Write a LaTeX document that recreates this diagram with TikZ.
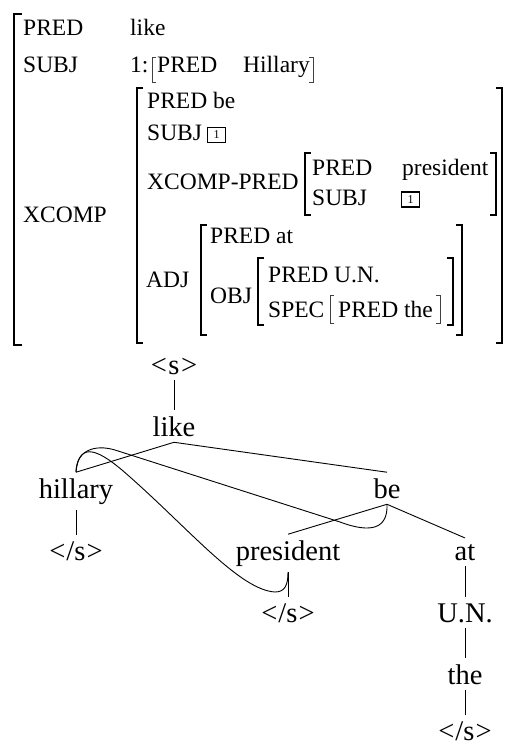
\documentclass[tikz,border=0pt]{standalone}
\usepackage{fontspec}
\setmainfont{Liberation Serif}
\begin{document}
\begin{tikzpicture}[x=1pt,y=-1pt,
  avm/.style={anchor=base west,inner sep=0pt,font=\fontsize{23.5}{27}\selectfont},
  tw/.style={font=\fontsize{28.5}{32}\selectfont,inner xsep=1pt,inner ysep=6pt,outer sep=0pt,anchor=base},
  brk/.style={line width=1.5pt},
  sbrk/.style={line width=0.8pt,black!75},
  edge/.style={line width=0.9pt},
  tagbox/.style={draw,line width=1.5pt,minimum width=18pt,minimum height=15pt,inner sep=0pt,font=\fontsize{12}{12}\selectfont}]
\useasboundingbox (0,0) rectangle (509,747);

% ---------- AVM ----------
% outer matrix
\draw[brk] (22,14) -- (14,14) -- (14,345) -- (22,345);
\node[avm] (p1) at (23,35) {PRED};
\node[avm] (v1) at (130,35) {like};
\node[avm] (s1) at (23,72) {SUBJ};
\node[avm] (one) at (130,72) {1:};
\draw[sbrk] (156,57) -- (152,57) -- (152,82) -- (156,82);
\node[avm] (p2) at (157,72) {PRED};
\node[avm] (v2) at (243,72) {Hillary};
\draw[sbrk] (309,57) -- (313,57) -- (313,82) -- (309,82);
\node[avm] (xc) at (23,222) {XCOMP};

% XCOMP matrix
\draw[brk] (143,88) -- (137,88) -- (137,343) -- (143,343);
\draw[brk] (496,88) -- (502,88) -- (502,343) -- (496,343);
\node[avm] (p3) at (147,108) {PRED be};
\node[avm] (s3) at (147,140) {SUBJ};
\node[tagbox] (t1) at (216.5,135) {1};
\node[avm] (xp) at (147,189) {XCOMP-PRED};

% XCOMP-PRED matrix
\draw[brk] (311,153) -- (305,153) -- (305,215) -- (311,215);
\draw[brk] (490,153) -- (496,153) -- (496,215) -- (490,215);
\node[avm] (p4) at (312,175) {PRED};
\node[avm] (v4) at (402,175) {president};
\node[avm] (s4) at (312,205) {SUBJ};
\node[tagbox] (t2) at (410.5,199.5) {1};

% ADJ matrix
\node[avm] (adj) at (146,287) {ADJ};
\draw[brk] (207,225) -- (201,225) -- (201,335) -- (207,335);
\draw[brk] (456,225) -- (462,225) -- (462,335) -- (456,335);
\node[avm] (p5) at (210,243) {PRED at};
\node[avm] (obj) at (210,303) {OBJ};

% OBJ matrix
\draw[brk] (264,258) -- (258,258) -- (258,325) -- (264,325);
\draw[brk] (447,258) -- (453,258) -- (453,325) -- (447,325);
\node[avm] (p6) at (268,282) {PRED U.N.};
\node[avm] (spec) at (268,317) {SPEC};
\draw[sbrk] (334,295) -- (330,295) -- (330,323) -- (334,323);
\node[avm] (p7) at (338,317) {PRED the};
\draw[sbrk] (436,295) -- (440,295) -- (440,323) -- (436,323);

% ---------- tree ----------
\node[tw] (s0) at (174,374) {<\kern1.5pt s\kern1.5pt>};
\node[tw] (like) at (174,436) {like};
\node[tw] (hillary) at (76,498) {hillary};
\node[tw] (be) at (387,498) {be};
\node[tw] (hs) at (76,560) {<\kern1pt/s\kern1pt>};
\node[tw] (president) at (288,560) {president};
\node[tw] (at) at (465,560) {at};
\node[tw] (ps) at (288,622) {<\kern1pt/s\kern1pt>};
\node[tw] (un) at (465,622) {U.N.};
\node[tw] (the) at (465,684) {the};
\node[tw] (es) at (465,740) {<\kern1pt/s\kern1pt>};

\draw[edge] (s0.south) -- (like.north);
\draw[edge] (like.south) -- (hillary.north);
\draw[edge] (like.south) -- (be.north);
\draw[edge] (hillary.south) -- (hs.north);
\draw[edge] (be.south) -- (president.north);
\draw[edge] (be.south) -- (at.north);
\draw[edge] (president.south) -- (ps.north);
\draw[edge] (at.south) -- (un.north);
\draw[edge] (un.south) -- (the.north);
\draw[edge] (the.south) -- (es.north);

% crossing arcs
\draw[edge] (hillary.north) .. controls +(0,-22) and (95,444) .. (115,450)
  -- (340,522) .. controls (372,534) and (388,528) .. (be.south);
\draw[edge] (hillary.north) .. controls +(3,-33) and (100,450) .. (130,477)
  .. controls (190,530) and (240,590) .. (275,592)
  .. controls (285,592) and (288,585) .. (president.south);
\end{tikzpicture}
\end{document}
